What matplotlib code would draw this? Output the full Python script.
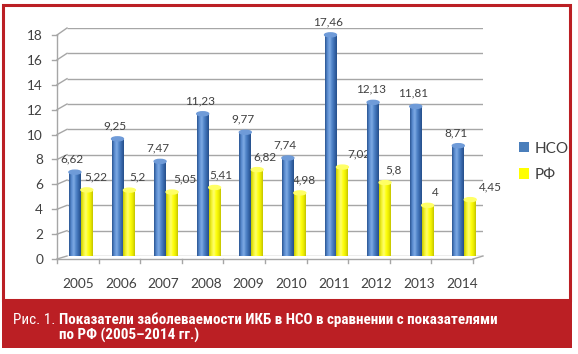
import numpy as np
import matplotlib
matplotlib.use("Agg")
import matplotlib.pyplot as plt
from matplotlib import font_manager
from matplotlib.patches import Rectangle, Ellipse
from matplotlib.colors import LinearSegmentedColormap
from matplotlib.transforms import ScaledTranslation

years = ['2005', '2006', '2007', '2008', '2009', '2010', '2011', '2012', '2013', '2014']
nso = [6.62, 9.25, 7.47, 11.23, 9.77, 7.74, 17.46, 12.13, 11.81, 8.71]
rf = [5.22, 5.2, 5.05, 5.41, 6.82, 4.98, 7.02, 5.8, 4, 4.45]
yticks = [0, 2, 4, 6, 8, 10, 12, 14, 16, 18]
series_names = ['НСО', 'РФ']
caption_num = 'Рис. 1.'
caption_1 = 'Показатели заболеваемости ИКБ в НСО в сравнении с показателями'
caption_2 = 'по РФ (2005–2014 гг.)'

# horizontal nudge of the РФ value labels, px (as placed in the original)
rf_dx = [9, 8, 13, 6, 8, 5, 17, 8, 8, 20]

W, H = 578, 354
RED = '#bb1f24'
TXT = '#404040'
GRID = '#a6a6a6'
FONT = ['Lato', 'DejaVu Sans']

# narrowest font on hand for the caption
avail = {f.name for f in font_manager.fontManager.ttflist}
NARROW = 'DejaVu Sans'
for fam in ['Liberation Sans Narrow', 'DejaVu Sans Condensed', 'Roboto Condensed', 'Roboto']:
    if fam in avail:
        NARROW = fam
        break


def fmt(v):
    return ('%g' % v).replace('.', ',')


fig = plt.figure(figsize=(W / 100, H / 100), dpi=100)
ax = fig.add_axes([57 / W, 1 - 256 / H, 426 / W, 228 / H])
for s in ax.spines.values():
    s.set_visible(False)

px_x = 10 / 426   # data units per pixel
px_y = 18 / 228
xb = -0.5 + 10 * px_x

# back wall grid + fake perspective
ax.hlines(yticks, xb, 9.5, color=GRID, lw=1, zorder=1)
for t in yticks:
    dy = (3 + 4 * t / 18) * px_y
    ax.plot([-0.5, xb], [t - dy, t], color=GRID, lw=1, clip_on=False, zorder=1)
    ax.plot([-0.5 - 5 * px_x, -0.5], [t - dy, t - dy], color=GRID, lw=1, clip_on=False, zorder=1)
ax.plot([-0.5, -0.5], [-3 * px_y, 18 - 7 * px_y], color=GRID, lw=1, clip_on=False, zorder=1)
xf = 9.5 - 10 * px_x
ax.plot([-0.5, xf], [-3 * px_y, -3 * px_y], color=GRID, lw=1, clip_on=False, zorder=1)
ax.plot([xf, 9.5], [-3 * px_y, 0], color=GRID, lw=1, clip_on=False, zorder=1)
for k in range(11):
    xk = -0.5 + k * (xf + 0.5) / 10
    ax.plot([xk, xk], [-3 * px_y, -7 * px_y], color=GRID, lw=1, clip_on=False, zorder=1)

# bars
w = 0.28
x = np.arange(len(years))
b1 = ax.bar(x - 0.08, nso, w, color='#4a7ebb', zorder=3)
b2 = ax.bar(x + 0.20, rf, w, color='#ffff00', zorder=3)

blue_cm = LinearSegmentedColormap.from_list('b', ['#2a5592', '#5a8cd0', '#7eaae4', '#5084c8', '#3868ac', '#254f8a'])
yel_cm = LinearSegmentedColormap.from_list('y', ['#c9c900', '#f2f22a', '#ffff70', '#ffff10', '#eded00', '#c4c400'])
grad = np.linspace(0, 1, 64)[None, :]
for bars, cm, cap in ((b1, blue_cm, '#6f9bd8'), (b2, yel_cm, '#ffff66')):
    for p in bars:
        x0 = p.get_x()
        h = p.get_height()
        im = ax.imshow(grad, cmap=cm, extent=(x0, x0 + w, 0, h), aspect='auto',
                       zorder=4, interpolation='bilinear')
        im.set_clip_path(p)
        ax.add_patch(Ellipse((x0 + w / 2, h), w, 4 * px_y, color=cap, zorder=5))

# value labels
for i, v in enumerate(nso):
    ax.annotate(fmt(v), (x[i] - 0.08, v), xytext=(-2.5 * 0.72, 13 * 0.72),
                textcoords='offset points', ha='center', va='center',
                fontsize=8.5, color=TXT, family=FONT)
for i, v in enumerate(rf):
    ax.annotate(fmt(v), (x[i] + 0.20, v), xytext=(rf_dx[i] * 0.72, 13 * 0.72),
                textcoords='offset points', ha='center', va='center',
                fontsize=8.5, color=TXT, family=FONT)

ax.set_xticks(x, years)
ax.set_yticks(yticks, [str(t) for t in yticks])
ax.tick_params(axis='x', length=0, pad=16, labelsize=9.8, labelcolor=TXT)
ax.tick_params(axis='y', length=0, pad=10, labelsize=9.8, labelcolor=TXT)
for lab in ax.get_xticklabels() + ax.get_yticklabels():
    lab.set_family(FONT)
for t, tick in zip(yticks, ax.yaxis.get_major_ticks()):
    dy = 3 + 4 * t / 18
    tick.label1.set_transform(tick.label1.get_transform() +
                              ScaledTranslation(0, -dy / 100, fig.dpi_scale_trans))
ax.set_xlim(-0.5, 9.5)
ax.set_ylim(0, 18)

fig.legend(handles=[b1, b2], labels=series_names, loc='upper left',
           bbox_to_anchor=(511 / W, 1 - 134 / H), frameon=False, borderpad=0,
           handlelength=0.65, handleheight=0.65, handletextpad=0.4,
           labelspacing=0.8, prop={'family': FONT, 'size': 11}, labelcolor=TXT)

# frame and caption band
fig.add_artist(Rectangle((3 / W, 1 - 300 / H), 567 / W, 295.5 / H, transform=fig.transFigure,
                         fill=False, ec=RED, lw=2.2))
fig.add_artist(Rectangle((2 / W, 1 - 348 / H), 569.5 / W, 48 / H, transform=fig.transFigure,
                         fc=RED, ec='none'))
t0 = fig.text(13 / W, 1 - 320 / H, caption_num, color='white', va='center', fontsize=11, family=NARROW)
t1 = fig.text(56 / W, 1 - 320 / H, caption_1, color='white', va='center', fontsize=11,
              fontweight='bold', family=NARROW)
t2 = fig.text(56 / W, 1 - 335 / H, caption_2, color='white', va='center', fontsize=11,
              fontweight='bold', family=NARROW)

# shrink the caption to the width it takes in the original (~440 px)
fig.canvas.draw()
r = fig.canvas.get_renderer()
k = min(1.0, 440 / t1.get_window_extent(r).width)
for t in (t0, t1, t2):
    t.set_fontsize(11 * k)
fig.canvas.draw()
right0 = t0.get_window_extent(r).x1
if right0 > 53:
    x1 = (right0 + 4) / W
    t1.set_x(x1)
    t2.set_x(x1)

fig.savefig('out.png', dpi=100)
